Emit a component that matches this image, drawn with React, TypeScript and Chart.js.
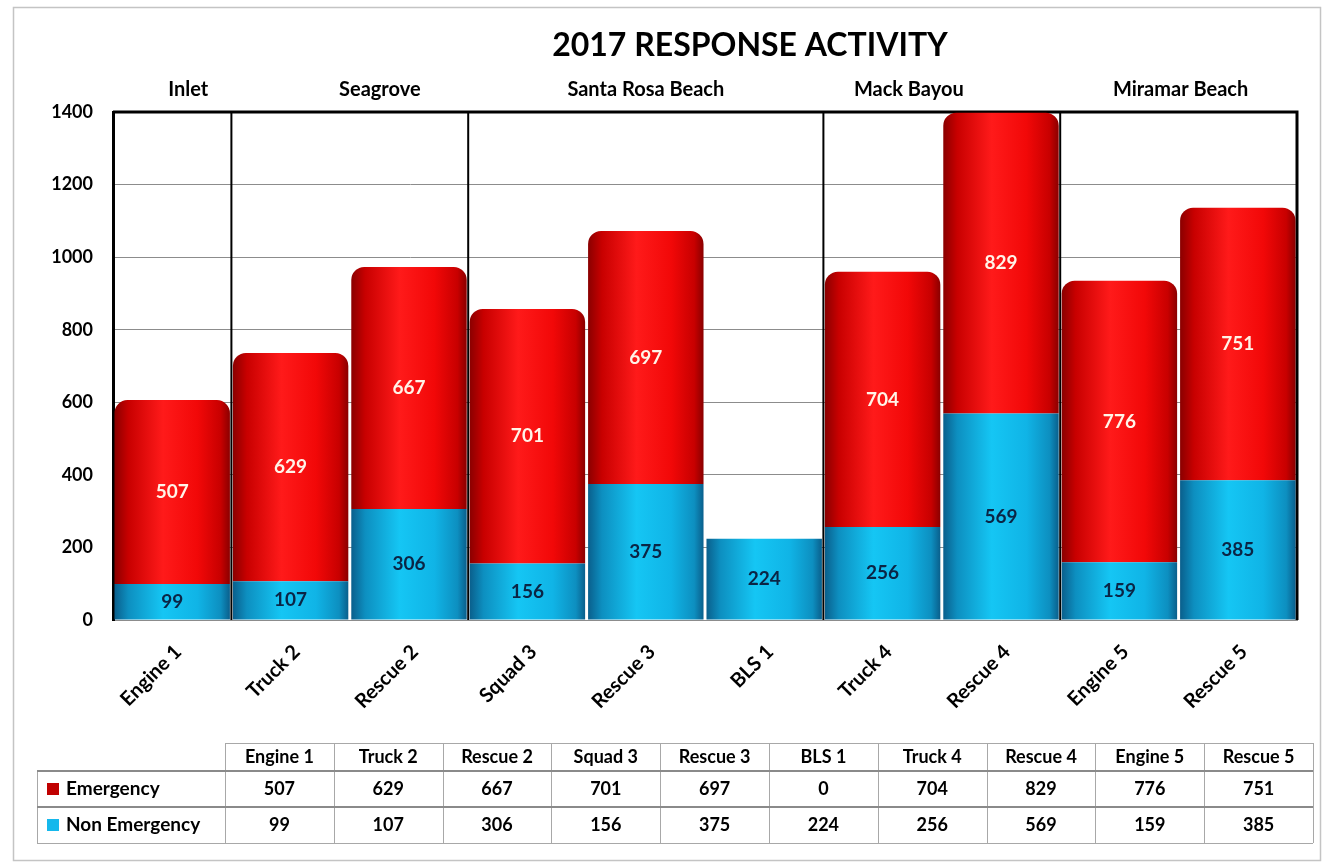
import React, { useEffect, useRef } from 'react';
import { Chart, registerables } from 'chart.js';

Chart.register(...registerables);

const TITLE = '2017 RESPONSE ACTIVITY';
const categories = ['Engine 1', 'Truck 2', 'Rescue 2', 'Squad 3', 'Rescue 3', 'BLS 1', 'Truck 4', 'Rescue 4', 'Engine 5', 'Rescue 5'];
const emergency = [507, 629, 667, 701, 697, 0, 704, 829, 776, 751];
const nonEmergency = [99, 107, 306, 156, 375, 224, 256, 569, 159, 385];
const seriesNames = ['Emergency', 'Non Emergency'];
const stationNames = ['Inlet', 'Seagrove', 'Santa Rosa Beach', 'Mack Bayou', 'Miramar Beach'];
const stationFirst = [0, 1, 3, 6, 8];
const stationLast = [0, 2, 5, 7, 9];
const Y_MAX = 1400;
const Y_STEP = 200;

// layout-only: small horizontal nudges of the station captions (px)
const STATION_NUDGE = [16, 30, 0, -33, 2];

const FONT = 'Lato, "Open Sans", "DejaVu Sans", sans-serif';
const W = 1331;
const H = 867;
const CAT_PCT = 1.0;
const BAR_PCT = 0.975;

const RED = { dark: '#8a0000', mid: '#c80000', bright: '#ff1a1a', bright2: '#f20808' };
const BLUE = { dark: '#0a5f8c', mid: '#0d8fc0', bright: '#15c6f4', bright2: '#10b4e6' };

function cylinder(ctx: any, pal: any) {
  const chart = ctx.chart;
  const xs = chart.scales && chart.scales.x;
  if (!chart.chartArea || !xs) return pal.bright;
  const cx = xs.getPixelForValue(ctx.dataIndex);
  const w = (xs.width / categories.length) * CAT_PCT * BAR_PCT;
  const g = chart.ctx.createLinearGradient(cx - w / 2, 0, cx + w / 2, 0);
  g.addColorStop(0, pal.dark);
  g.addColorStop(0.12, pal.mid);
  g.addColorStop(0.42, pal.bright);
  g.addColorStop(0.72, pal.bright2);
  g.addColorStop(0.92, pal.mid);
  g.addColorStop(1, pal.dark);
  return g;
}

const framePlugin = {
  id: 'framePlugin',
  beforeDraw(chart: any) {
    const c = chart.ctx;
    c.save();
    c.fillStyle = '#ffffff';
    c.fillRect(0, 0, W, H);
    c.strokeStyle = '#c4c4c4';
    c.lineWidth = 1.5;
    c.strokeRect(13.5, 7.5, 1307, 853);
    c.fillStyle = '#000';
    c.font = `bold 32px ${FONT}`;
    c.textAlign = 'center';
    c.textBaseline = 'middle';
    c.fillText(TITLE, 750, 46);
    const xs = chart.scales.x;
    c.font = `bold 20px ${FONT}`;
    stationNames.forEach((n, i) => {
      const x0 = xs.getPixelForValue(stationFirst[i]);
      const x1 = xs.getPixelForValue(stationLast[i]);
      c.fillText(n, (x0 + x1) / 2 + STATION_NUDGE[i], 90);
    });
    c.restore();
  },
  beforeDatasetsDraw(chart: any) {
    const c = chart.ctx;
    const a = chart.chartArea;
    const xs = chart.scales.x;
    const half = xs.width / categories.length / 2;
    c.save();
    c.strokeStyle = '#000';
    c.lineWidth = 2;
    for (let i = 0; i < stationLast.length - 1; i++) {
      const x = xs.getPixelForValue(stationLast[i]) + half;
      c.beginPath();
      c.moveTo(x, a.top);
      c.lineTo(x, a.bottom);
      c.stroke();
    }
    c.lineWidth = 3;
    c.beginPath();
    c.moveTo(a.left, a.top);
    c.lineTo(a.right, a.top);
    c.lineTo(a.right, a.bottom);
    c.stroke();
    c.restore();
  },
  afterDatasetsDraw(chart: any) {
    const c = chart.ctx;
    c.save();
    c.font = `bold 19px ${FONT}`;
    c.textAlign = 'center';
    c.textBaseline = 'middle';
    chart.data.datasets.forEach((ds: any, di: number) => {
      const meta = chart.getDatasetMeta(di);
      c.fillStyle = ds.label === 'Emergency' ? '#fff4e8' : '#0b2545';
      meta.data.forEach((el: any, i: number) => {
        const v = ds.data[i];
        if (!v) return;
        const p = el.getProps(['x', 'y', 'base'], true);
        c.fillText(String(v), p.x, (p.y + p.base) / 2);
      });
    });
    c.restore();
  },
  afterDraw(chart: any) {
    const c = chart.ctx;
    const left = 37;
    const labelRight = 225;
    const right = 1313;
    const colW = (right - labelRight) / categories.length;
    const yTop = 743;
    const y1 = 771;
    const y2 = 807;
    const yBot = 843;
    c.save();
    c.strokeStyle = '#a8a8a8';
    c.lineWidth = 1;
    c.beginPath();
    c.moveTo(labelRight, yTop + 0.5);
    c.lineTo(right, yTop + 0.5);
    c.moveTo(left, yBot + 0.5);
    c.lineTo(right, yBot + 0.5);
    c.moveTo(left + 0.5, y1);
    c.lineTo(left + 0.5, yBot);
    for (let i = 0; i <= categories.length; i++) {
      const x = Math.round(labelRight + i * colW) + 0.5;
      c.moveTo(x, yTop);
      c.lineTo(x, yBot);
    }
    c.stroke();
    c.strokeStyle = '#8a8a8a';
    c.lineWidth = 2;
    c.beginPath();
    c.moveTo(left, y1);
    c.lineTo(right, y1);
    c.moveTo(left, y2);
    c.lineTo(right, y2);
    c.stroke();

    c.fillStyle = '#000';
    c.font = `bold 18px ${FONT}`;
    c.textAlign = 'center';
    c.textBaseline = 'middle';
    categories.forEach((cat, i) => {
      const cx = labelRight + (i + 0.5) * colW;
      c.fillText(cat, cx, (yTop + y1) / 2);
      c.fillText(String(emergency[i]), cx, (y1 + y2) / 2);
      c.fillText(String(nonEmergency[i]), cx, (y2 + yBot) / 2);
    });
    const rows = [
      { name: seriesNames[0], color: '#c00000', y: (y1 + y2) / 2 },
      { name: seriesNames[1], color: '#15b8ec', y: (y2 + yBot) / 2 },
    ];
    c.textAlign = 'left';
    c.font = `bold 19px ${FONT}`;
    rows.forEach((r) => {
      c.fillStyle = r.color;
      c.fillRect(47, r.y - 6, 12, 12);
      c.fillStyle = '#000';
      c.fillText(r.name, 66, r.y);
    });
    c.restore();
  },
};

export default function App() {
  const ref = useRef<HTMLCanvasElement | null>(null);
  useEffect(() => {
    document.body.style.margin = '0';
    const canvas = ref.current;
    if (!canvas) return;
    const chart = new Chart(canvas, {
      type: 'bar',
      data: {
        labels: categories,
        datasets: [
          {
            label: seriesNames[1],
            data: nonEmergency,
            backgroundColor: (ctx: any) => cylinder(ctx, BLUE),
            borderWidth: 0,
            categoryPercentage: CAT_PCT,
            barPercentage: BAR_PCT,
          },
          {
            label: seriesNames[0],
            data: emergency,
            backgroundColor: (ctx: any) => cylinder(ctx, RED),
            borderWidth: 0,
            borderRadius: { topLeft: 13, topRight: 13, bottomLeft: 0, bottomRight: 0 },
            borderSkipped: 'start',
            categoryPercentage: CAT_PCT,
            barPercentage: BAR_PCT,
          },
        ],
      },
      options: {
        responsive: false,
        animation: false,
        layout: { padding: { top: 112, right: 34, left: 0, bottom: 0 } },
        plugins: {
          legend: { display: false },
          title: { display: false },
          tooltip: { enabled: false },
        },
        scales: {
          x: {
            stacked: true,
            grid: { display: false, drawTicks: false },
            border: { display: true, color: '#8c8c8c', width: 1 },
            ticks: {
              minRotation: 45,
              maxRotation: 45,
              padding: 20,
              labelOffset: 6,
              color: '#000',
              font: { family: FONT, size: 20, weight: 'bold' },
            },
            afterFit: (s: any) => {
              s.height = 247;
            },
          },
          y: {
            stacked: true,
            min: 0,
            max: Y_MAX,
            grid: { color: '#8c8c8c', lineWidth: 1, drawTicks: false },
            border: { display: true, color: '#000', width: 3 },
            ticks: {
              stepSize: Y_STEP,
              padding: 20,
              color: '#000',
              font: { family: FONT, size: 18, weight: 'bold' },
              callback: (v: any) => String(v),
            },
            afterFit: (s: any) => {
              s.width = 113;
            },
          },
        },
      },
      plugins: [framePlugin],
    } as any);
    return () => chart.destroy();
  }, []);
  return (
    <canvas
      ref={ref}
      width={W}
      height={H}
      style={{ display: 'block', width: W, height: H }}
    />
  );
}
